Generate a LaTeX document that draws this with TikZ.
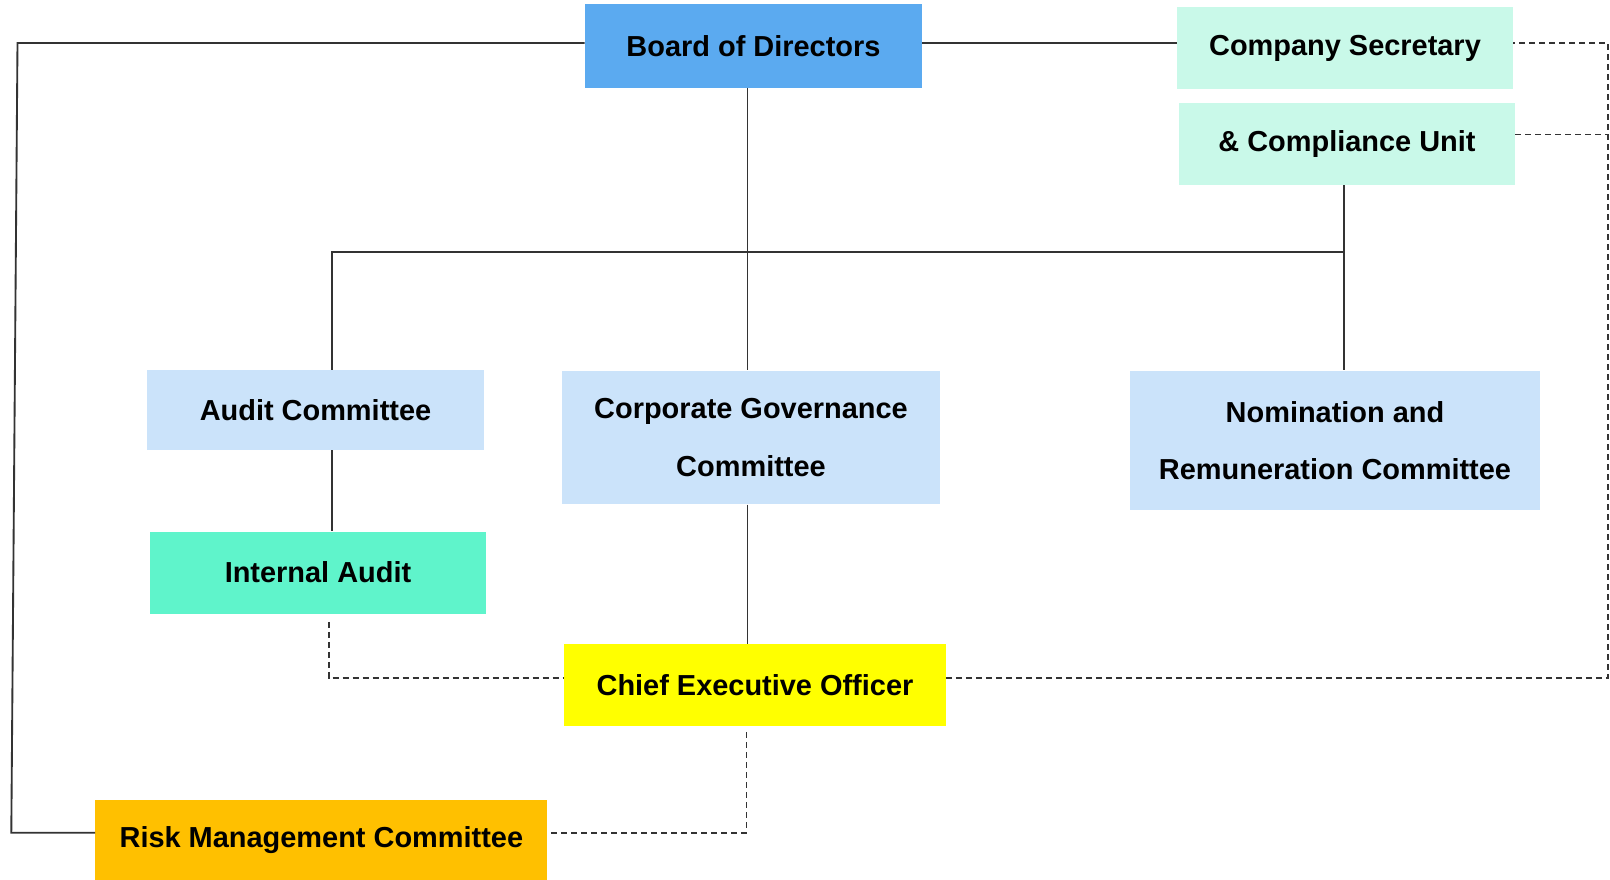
\documentclass[tikz,border=0pt]{standalone}
\usepackage{fontspec}
\setmainfont{Liberation Sans}
\usepackage{tikz}

\definecolor{boardblue}{RGB}{91,170,240}
\definecolor{secmint}{RGB}{201,249,233}
\definecolor{cttblue}{RGB}{203,227,250}
\definecolor{auditgreen}{RGB}{95,244,203}
\definecolor{ceoyellow}{RGB}{255,255,0}
\definecolor{riskorange}{RGB}{255,192,0}

\begin{document}
\begin{tikzpicture}[x=0.75pt,y=0.75pt,yscale=-1,
  unit/.style={rectangle,inner sep=0pt,align=center,
    font=\fontsize{21.7}{43}\selectfont\bfseries},
  solidline/.style={line width=1.4pt,color=black!80},
  dashline/.style={line width=1.4pt,color=black!80,dash pattern=on 4.5pt off 3pt}]
\useasboundingbox (0,0) rectangle (1610,880);

%Boxes
\node [unit,fill=boardblue,minimum width=252.8pt,minimum height=62.3pt] (board) at (753.5,46) {Board of Directors};
\node [unit,fill=secmint,minimum width=252pt,minimum height=61.5pt] (compsec) at (1345,48) {Company Secretary};
\node [unit,fill=secmint,minimum width=252pt,minimum height=61.5pt] (compl) at (1347,144) {\& Compliance Unit};
\node [unit,fill=cttblue,minimum width=252.8pt,minimum height=60pt] (audit) at (315.5,410) {Audit Committee};
\node [unit,fill=cttblue,minimum width=282.8pt,minimum height=100.1pt] (cgc) at (751,437.5) {Corporate Governance\\Committee};
\node [unit,fill=cttblue,minimum width=306.8pt,minimum height=104.7pt] (nrc) at (1335,440.5) {Nomination and\\Remuneration Committee};
\node [unit,fill=auditgreen,minimum width=252pt,minimum height=61.5pt] (ia) at (318,572.5) {Internal Audit};
\node [unit,fill=ceoyellow,minimum width=285.8pt,minimum height=60.8pt] (ceo) at (755,685) {Chief Executive Officer};
\node [unit,fill=riskorange,minimum width=339pt,minimum height=60pt] (risk) at (321.4,840) {Risk Management Committee};

%Corners of the connectors
\coordinate (tl) at (17.5,43);
\coordinate (bl) at (11.3,832.7);
\coordinate (tr) at (1608,43);
\coordinate (cr) at (1608,134.5);
\coordinate (br) at (1608,677.7);
\coordinate (spine) at (747.5,251.6);
\coordinate (busL) at (331.7,251.6);
\coordinate (busR) at (1344,251.6);
\coordinate (ial) at (328.6,677.7);
\coordinate (rmc) at (746.5,832.7);

%Solid lines
\draw [solidline] (tl -| board.west) -- (tl) -- (bl) -- (bl -| risk.west);
\draw [solidline] (tl -| board.east) -- (tl -| compsec.west);
\draw [solidline] (spine |- board.south) -- (spine |- cgc.north);
\draw [solidline] (busL |- audit.north) -- (busL) -- (busR) -- (busR |- compl.south);
\draw [solidline] (busR) -- (busR |- nrc.north);
\draw [solidline] (busL |- audit.south) -- (busL |- ia.north);
\draw [solidline] (spine |- cgc.south) -- (spine |- ceo.north);

%Dashed lines
\draw [dashline,shorten <=6pt] (ial |- ia.south) -- (ial) -- (ial -| ceo.west);
\draw [dashline] (br -| ceo.east) -- (br) -- (tr) -- (tr -| compsec.east);
\draw [dashline] (cr -| compl.east) -- (cr);
\draw [dashline,shorten <=5pt] (rmc |- ceo.south) -- (rmc) -- (rmc -| risk.east);
\end{tikzpicture}
\end{document}
